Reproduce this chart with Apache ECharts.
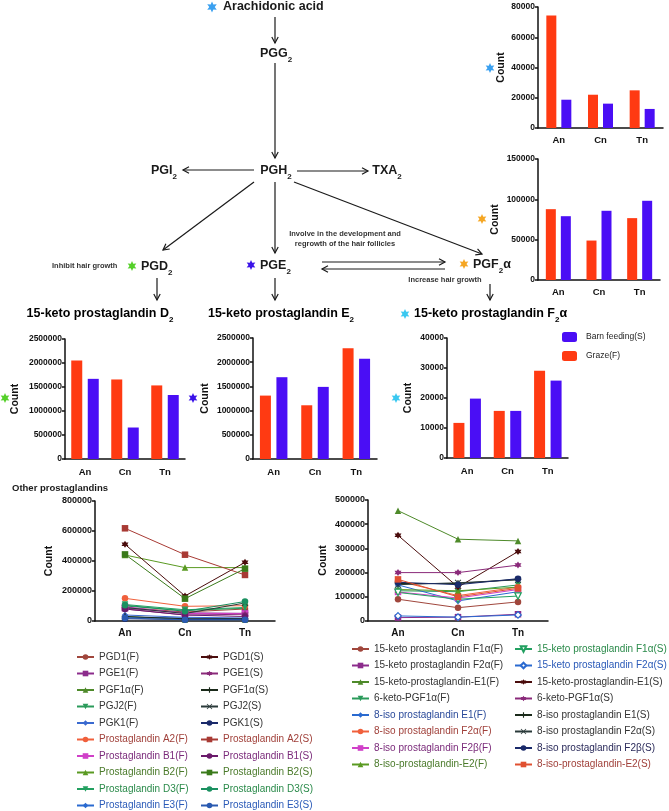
<!DOCTYPE html>
<html><head><meta charset="utf-8">
<script src="https://cdn.jsdelivr.net/npm/echarts@6/dist/echarts.min.js"></script>
<style>html,body{margin:0;padding:0;background:#fff}#c{width:669px;height:811px}</style>
</head><body><div id="c"></div>
<script>
// ---------- DATA ----------
const categories = ['An', 'Cn', 'Tn'];
const aaF = [74300, 22000, 24900];          // Arachidonic acid, Graze(F)
const aaS = [18700, 16100, 12600];          // Arachidonic acid, Barn feeding(S)
const pgf2aF = [87800, 48900, 76700];       // PGF2α
const pgf2aS = [79100, 85800, 98200];
const kD2F = [2050000, 1657000, 1533000];   // 15-keto prostaglandin D2
const kD2S = [1670000, 656000, 1333000];
const kE2F = [1310000, 1110000, 2290000];   // 15-keto prostaglandin E2
const kE2S = [1690000, 1490000, 2070000];
const kF2aF = [11700, 15700, 29100];        // 15-keto prostaglandin F2α
const kF2aS = [19800, 15700, 25800];

const leftNames = ['PGD1(F)','PGE1(F)','PGF1α(F)','PGJ2(F)','PGK1(F)',
  'Prostaglandin A2(F)','Prostaglandin B1(F)','Prostaglandin B2(F)','Prostaglandin D3(F)','Prostaglandin E3(F)',
  'PGD1(S)','PGE1(S)','PGF1α(S)','PGJ2(S)','PGK1(S)',
  'Prostaglandin A2(S)','Prostaglandin B1(S)','Prostaglandin B2(S)','Prostaglandin D3(S)','Prostaglandin E3(S)'];
const leftValues = [
  [90000, 60000, 80000],
  [85000, 55000, 51000],
  [30000, 10000, 10000],
  [100000, 70000, 85000],
  [40000, 25000, 20000],
  [151000, 98000, 102000],
  [95000, 50000, 50000],
  [440000, 356000, 356000],
  [110000, 75000, 90000],
  [25000, 20000, 15000],
  [511000, 167000, 391000],
  [80000, 40000, 45000],
  [30000, 15000, 15000],
  [90000, 50000, 120000],
  [15000, 10000, 10000],
  [618000, 442000, 307000],
  [80000, 40000, 30000],
  [444000, 149000, 349000],
  [105000, 65000, 130000],
  [20000, 8000, 8000]
];
const rightNames = ['15-keto prostaglandin F1α(F)','15-keto prostaglandin F2α(F)','15-keto-prostaglandin-E1(F)',
  '6-keto-PGF1α(F)','8-iso prostaglandin E1(F)','8-iso prostaglandin F2α(F)','8-iso prostaglandin F2β(F)','8-iso-prostaglandin-E2(F)',
  '15-keto prostaglandin F1α(S)','15-keto prostaglandin F2α(S)','15-keto-prostaglandin-E1(S)',
  '6-keto-PGF1α(S)','8-iso prostaglandin E1(S)','8-iso prostaglandin F2α(S)','8-iso prostaglandin F2β(S)','8-iso-prostaglandin-E2(S)'];
const rightValues = [
  [90000, 55000, 79000],
  [14000, 16000, 28000],
  [456000, 338000, 331000],
  [125000, 121000, 149000],
  [149000, 83000, 121000],
  [165000, 105000, 140000],
  [120000, 95000, 130000],
  [130000, 125000, 140000],
  [118000, 90000, 103000],
  [21000, 16000, 25000],
  [354000, 140000, 287000],
  [200000, 200000, 231000],
  [155000, 155000, 172000],
  [150000, 158000, 170000],
  [160000, 150000, 175000],
  [172000, 100000, 135000]
];

// ---------- STYLES ----------
const FONT = 'Arial, "Liberation Sans", sans-serif';
const RED = '#ff3a12', BLUE = '#4a0ef5';
const SYM = {
  circle: 'circle', square: 'rect', tri: 'triangle', diamond: 'diamond',
  itri: 'path://M0,0L10,0L5,9Z',
  star: 'path://M5,0L9.33,7.5L0.67,7.5Z M5,10L0.67,2.5L9.33,2.5Z',
  plus: 'path://M4,0H6V4H10V6H6V10H4V6H0V4H4Z',
  cross: 'path://M1,0L5,4L9,0L10,1L6,5L10,9L9,10L5,6L1,10L0,9L4,5L0,1Z'
};
const leftStyle = [
  ['#a0463c','circle','#333'],['#8c2c8c','square','#333'],['#4e8a2a','tri','#333'],['#2a9a5a','itri','#333'],['#3a6ad0','diamond','#333'],
  ['#f0603c','circle','#a0403a'],['#d040c8','square','#7a2a7a'],['#5a9a22','tri','#4a7a2a'],['#22a060','itri','#2a8a4a'],['#2a6ad0','diamond','#2a5ab8'],
  ['#4a0c0c','star','#333'],['#8a2a7a','star','#333'],['#1a2a1a','plus','#333'],['#2a3a3a','cross','#333'],['#1a2a6a','circle','#333'],
  ['#a83a34','square','#a0403a'],['#6a1a6a','circle','#7a2a7a'],['#3a7a1a','square','#4a7a2a'],['#1a9060','circle','#2a8a4a'],['#2a5ab0','circle','#2a5ab8']
];
const rightStyle = [
  ['#a0463c','circle','#333'],['#8c2c8c','square','#333'],['#4e8a2a','tri','#333'],['#2a9a5a','itri','#333'],['#2a6ad0','diamond','#2a4a9a'],
  ['#f0603c','circle','#a0403a'],['#d040c8','square','#7a2a7a'],['#5a9a22','tri','#4a7a2a'],
  ['#22a060','itri','#2a8a4a',true],['#2a6ad0','diamond','#2a5ab8',true],['#4a0c0c','star','#333'],
  ['#8a2a7a','star','#333'],['#1a2a1a','plus','#333'],['#2a3a3a','cross','#333'],['#1a2a6a','circle','#2a2a5a'],['#e05030','square','#a0403a']
];

// ---------- GRIDS ----------
const grids = [
  {left: 538, top: 7, width: 125, height: 121},
  {left: 538, top: 159, width: 122, height: 121},
  {left: 65, top: 339, width: 120, height: 120},
  {left: 253, top: 338, width: 124, height: 121},
  {left: 447, top: 338, width: 121, height: 120},
  {left: 95, top: 501, width: 180, height: 120},
  {left: 368, top: 500, width: 180, height: 121}
];
const yMax = [80000, 150000, 2500000, 2500000, 40000, 800000, 500000];
const yInt = [20000, 50000, 500000, 500000, 10000, 200000, 100000];
const nameGaps = [31, 37, 44, 42, 33, 40, 39];

const xAxes = grids.map((g, i) => ({
  type: 'category', gridIndex: i, data: categories, boundaryGap: true,
  axisLine: {lineStyle: {color: '#111', width: 1.5}},
  axisTick: {alignWithLabel: true, length: 3, lineStyle: {color: '#111', width: 1.5}},
  axisLabel: {color: '#111', fontWeight: 'bold', fontSize: i >= 5 ? 10 : 9.5, fontFamily: FONT, margin: i >= 5 ? 7 : (i <= 1 ? 7 : 8)}
}));
const yAxes = grids.map((g, i) => ({
  type: 'value', gridIndex: i, min: 0, max: yMax[i], interval: yInt[i],
  name: 'Count', nameLocation: 'middle', nameGap: nameGaps[i], nameRotate: 90, nameMoveOverlap: false,
  nameTextStyle: {color: '#111', fontWeight: 'bold', fontSize: 10.5, fontFamily: FONT},
  axisLine: {show: true, lineStyle: {color: '#111', width: 1.5}},
  axisTick: {show: true, length: 3, lineStyle: {color: '#111', width: 1.5}},
  splitLine: {show: false},
  axisLabel: {color: '#111', fontWeight: 'bold', fontSize: i <= 4 ? 8.5 : 9, fontFamily: FONT, margin: 3,
    formatter: v => String(v)}
}));

const barPairs = [[aaF, aaS], [pgf2aF, pgf2aS], [kD2F, kD2S], [kE2F, kE2S], [kF2aF, kF2aS]];
const series = [];
barPairs.forEach((p, i) => {
  series.push({type: 'bar', name: 'Graze(F)', xAxisIndex: i, yAxisIndex: i, data: p[0],
    barWidth: i <= 1 ? 10 : 11, barGap: '50%', itemStyle: {color: RED}});
  series.push({type: 'bar', name: 'Barn feeding(S)', xAxisIndex: i, yAxisIndex: i, data: p[1],
    barWidth: i <= 1 ? 10 : 11, barGap: '50%', itemStyle: {color: BLUE}});
});
function lineSeries(names, values, styles, idx) {
  names.forEach((n, k) => {
    const st = styles[k];
    const open = !!st[3];
    series.push({
      type: 'line', name: n, xAxisIndex: idx, yAxisIndex: idx, data: values[k],
      symbol: SYM[st[1]], symbolSize: st[1] === 'star' ? 7 : 6.5,
      lineStyle: {color: st[0], width: 1},
      itemStyle: open ? {color: '#fff', borderColor: st[0], borderWidth: 1.2} : {color: st[0]},
      emphasis: {disabled: true}, z: 3
    });
  });
}
lineSeries(leftNames, leftValues, leftStyle, 5);
lineSeries(rightNames, rightValues, rightStyle, 6);

function legendCol(names, styles, left, top) {
  return {
    orient: 'vertical', left: left, top: top, height: 240, padding: 0, itemWidth: 17, itemHeight: 7, itemGap: 4.5,
    selectedMode: false,
    data: names.map((n, k) => ({name: n, textStyle: {color: styles[k][2]}})),
    textStyle: {fontSize: 10, fontFamily: FONT, lineHeight: 12, padding: [0, 0, 0, 0]}
  };
}
const legends = [
  {orient: 'vertical', left: 562, top: 332, padding: 0, itemWidth: 15, itemHeight: 10, itemGap: 9, selectedMode: false,
   data: ['Barn feeding(S)', 'Graze(F)'], textStyle: {fontSize: 8.5, fontFamily: FONT, color: '#222', padding: [0, 0, 0, 4]}},
  legendCol(leftNames.slice(0, 10), leftStyle.slice(0, 10), 76, 651),
  legendCol(leftNames.slice(10), leftStyle.slice(10), 200, 651),
  legendCol(rightNames.slice(0, 8), rightStyle.slice(0, 8), 351, 643),
  legendCol(rightNames.slice(8), rightStyle.slice(8), 514, 643)
];

// ---------- PATHWAY DIAGRAM (decoration) ----------
const G = [];
const INK = '#1a1a1a';
function arrow(x1, y1, x2, y2) {
  const a = Math.atan2(y2 - y1, x2 - x1), c = Math.cos(a), s = Math.sin(a), L = 6, W = 3.2;
  G.push({type: 'line', shape: {x1, y1, x2, y2}, style: {stroke: INK, lineWidth: 1.2}});
  G.push({type: 'polyline', shape: {points: [[x2 - L * c - W * s, y2 - L * s + W * c], [x2, y2], [x2 - L * c + W * s, y2 - L * s - W * c]]},
    style: {stroke: INK, lineWidth: 1.2, fill: null}});
}
function star(cx, cy, r, color) {
  const pts = [];
  for (let k = 0; k < 12; k++) {
    const ang = -Math.PI / 2 + k * Math.PI / 6, rr = k % 2 === 0 ? r : r * 0.5;
    pts.push([cx + rr * Math.cos(ang), cy + rr * Math.sin(ang)]);
  }
  G.push({type: 'polygon', shape: {points: pts}, style: {fill: color}});
}
const rich = {
  b: {fontSize: 12.5, fontWeight: 'bold', fontFamily: FONT, color: INK},
  s: {fontSize: 8, fontWeight: 'bold', fontFamily: FONT, color: INK, verticalAlign: 'bottom', padding: [0, 0, -3, 0]}
};
function label(x, y, txt, align) {
  G.push({type: 'text', x, y, style: {text: txt, rich, align: align || 'center', verticalAlign: 'middle', fill: INK}});
}
function small(x, y, txt, align) {
  G.push({type: 'text', x, y, style: {text: txt, fontSize: 7.5, fontWeight: 'bold', fontFamily: FONT, fill: '#333', align: align || 'center', verticalAlign: 'middle'}});
}
star(212, 7, 5.5, '#3aa0f0');
label(223, 7, '{b|Arachidonic acid}', 'left');
arrow(275, 17, 275, 43);
label(276, 54, '{b|PGG}{s|2}');
arrow(275, 63, 275, 158);
label(276, 171, '{b|PGH}{s|2}');
label(164, 171, '{b|PGI}{s|2}');
arrow(254, 170, 183, 170);
label(387, 171, '{b|TXA}{s|2}');
arrow(297, 171, 368, 171);
arrow(254, 182, 163, 250);
arrow(275, 182, 275, 253);
arrow(294, 182, 482, 254);
small(345, 234, 'Involve in the development and');
small(345, 244, 'regrowth of the hair follicles');
small(52, 266, 'Inhibit hair growth', 'left');
star(132, 266, 5, '#55d02a');
label(141, 267, '{b|PGD}{s|2}', 'left');
star(251, 265, 5, '#3a12e8');
label(260, 266, '{b|PGE}{s|2}', 'left');
arrow(322, 262, 445, 262);
arrow(445, 269, 322, 269);
star(464, 264, 5, '#f5a623');
label(473, 265, '{b|PGF}{s|2}{b|α}', 'left');
small(445, 280, 'Increase hair growth');
arrow(157, 278, 157, 300);
arrow(275, 278, 275, 300);
arrow(490, 284, 490, 300);
G.push({type: 'text', x: 100, y: 314, style: {text: '{b|15-keto prostaglandin D}{s|2}', rich, align: 'center', verticalAlign: 'middle'}});
G.push({type: 'text', x: 281, y: 314, style: {text: '{b|15-keto prostaglandin E}{s|2}', rich, align: 'center', verticalAlign: 'middle'}});
star(405, 314, 5, '#3ac8f0');
G.push({type: 'text', x: 414, y: 314, style: {text: '{b|15-keto prostaglandin F}{s|2}{b|α}', rich, align: 'left', verticalAlign: 'middle'}});
G.push({type: 'text', x: 12, y: 488, style: {text: 'Other prostaglandins', fontSize: 9.5, fontWeight: 'bold', fontFamily: FONT, fill: INK, verticalAlign: 'middle'}});
// stars beside "Count"
star(490, 68, 5, '#3aa0f0');
star(482, 219, 5, '#f5a623');
star(5, 398, 5, '#55d02a');
star(193, 398, 5, '#3a12e8');
star(396, 398, 5, '#3ac8f0');

const chart = echarts.init(document.getElementById('c'), null, {renderer: 'canvas'});
chart.setOption({
  animation: false,
  backgroundColor: '#fff',
  textStyle: {fontFamily: FONT},
  grid: grids,
  xAxis: xAxes,
  yAxis: yAxes,
  legend: legends,
  series: series,
  graphic: G
});
</script></body></html>
